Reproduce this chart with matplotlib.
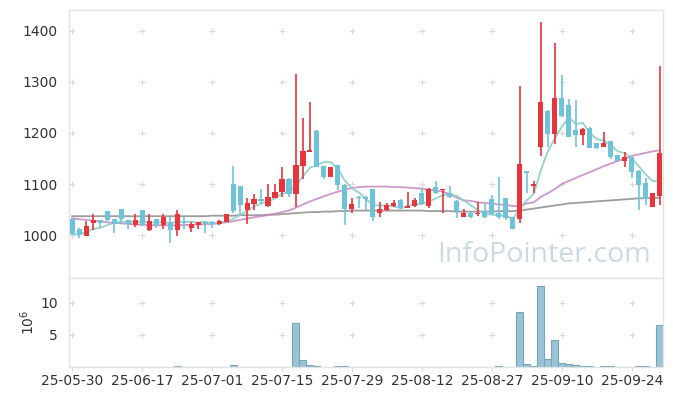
import numpy as np
import matplotlib
matplotlib.use("Agg")
import matplotlib.pyplot as plt
import pandas as pd

# daily OHLC (KRW), 85 trading days 25-05-30 .. 25-09-30
opens = [1031, 1012, 999, 1024, 1029, 1047, 1031, 1051, 1029, 1020,
         1049, 1010, 1031, 1020, 1026, 1010, 1026, 1014, 1020, 1025,
         1026, 1022, 1026, 1100, 1096, 1050, 1061, 1071, 1057, 1073,
         1084, 1110, 1081, 1135, 1163, 1204, 1135, 1114, 1137, 1099,
         1052, 1075, 1075, 1090, 1043, 1049, 1057, 1069, 1054, 1057,
         1083, 1057, 1094, 1088, 1083, 1067, 1036, 1044, 1041, 1046,
         1071, 1043, 1072, 1035, 1032, 1125, 1097, 1173, 1243, 1197,
         1269, 1255, 1206, 1196, 1210, 1180, 1173, 1184, 1156, 1146,
         1152, 1126, 1102, 1056, 1077]
highs = [1032, 1013, 1028, 1041, 1030, 1048, 1032, 1052, 1030, 1041,
         1050, 1042, 1032, 1041, 1035, 1049, 1036, 1026, 1026, 1026,
         1027, 1029, 1042, 1135, 1097, 1072, 1080, 1090, 1100, 1100,
         1133, 1111, 1315, 1229, 1260, 1205, 1136, 1134, 1138, 1100,
         1072, 1076, 1076, 1091, 1065, 1062, 1069, 1070, 1085, 1073,
         1093, 1093, 1106, 1091, 1097, 1068, 1052, 1046, 1065, 1060,
         1078, 1113, 1073, 1036, 1292, 1126, 1106, 1418, 1244, 1376,
         1314, 1266, 1265, 1209, 1211, 1181, 1201, 1185, 1157, 1162,
         1153, 1127, 1111, 1083, 1332]
lows = [1000, 995, 998, 1010, 1013, 1027, 1005, 1022, 1011, 1016,
        1018, 1009, 1014, 1012, 984, 999, 1011, 1006, 1011, 1005,
        1013, 1020, 1025, 1044, 1041, 1021, 1049, 1061, 1056, 1072,
        1075, 1075, 1056, 1109, 1162, 1133, 1110, 1113, 1088, 1020,
        1044, 1054, 1050, 1027, 1036, 1048, 1056, 1052, 1053, 1055,
        1059, 1054, 1081, 1043, 1073, 1034, 1035, 1034, 1038, 1034,
        1041, 1032, 1029, 1011, 1023, 1083, 1083, 1155, 1173, 1178,
        1232, 1192, 1173, 1176, 1170, 1168, 1172, 1149, 1145, 1134,
        1111, 1050, 1059, 1055, 1059]
closes = [1002, 1000, 1017, 1029, 1023, 1029, 1022, 1031, 1022, 1029,
          1020, 1027, 1020, 1036, 1010, 1041, 1023, 1022, 1025, 1021,
          1021, 1027, 1041, 1048, 1059, 1062, 1071, 1067, 1074, 1084,
          1110, 1081, 1137, 1165, 1167, 1134, 1113, 1133, 1099, 1052,
          1061, 1072, 1071, 1036, 1051, 1059, 1063, 1054, 1057, 1069,
          1061, 1090, 1082, 1090, 1074, 1047, 1044, 1036, 1044, 1035,
          1042, 1035, 1033, 1012, 1139, 1121, 1101, 1261, 1197, 1269,
          1233, 1193, 1196, 1208, 1171, 1171, 1180, 1152, 1146, 1153,
          1124, 1099, 1070, 1082, 1160]

# 20 / 60 day averages as drawn (they carry history from before the window)
ma20 = [1033, 1031, 1030, 1028, 1027, 1025, 1024, 1023, 1022, 1021,
        1020, 1020, 1019, 1019, 1019, 1019, 1020, 1020, 1021, 1021,
        1022, 1023, 1025, 1027, 1030, 1032, 1035, 1037, 1039, 1042,
        1045, 1048, 1054, 1060, 1066, 1071, 1076, 1081, 1085, 1089,
        1092, 1094, 1095, 1095, 1095, 1095, 1094, 1094, 1093, 1092,
        1091, 1089, 1087, 1085, 1080, 1073, 1068, 1067, 1064, 1063,
        1062, 1060, 1059, 1057, 1057, 1062, 1064, 1075, 1082, 1090,
        1100, 1106, 1112, 1118, 1123, 1129, 1135, 1140, 1145, 1150,
        1155, 1158, 1161, 1164, 1166]
ma60 = [1037, 1037, 1037, 1037, 1037, 1037, 1037, 1037, 1037, 1037,
        1037, 1037, 1037, 1037, 1037, 1037, 1037, 1037, 1037, 1037,
        1038, 1038, 1038, 1038, 1039, 1039, 1039, 1039, 1040, 1040,
        1041, 1042, 1043, 1044, 1045, 1045, 1046, 1046, 1047, 1047,
        1048, 1048, 1048, 1048, 1048, 1048, 1048, 1048, 1048, 1048,
        1048, 1047, 1047, 1047, 1047, 1046, 1046, 1046, 1046, 1046,
        1046, 1047, 1047, 1047, 1048, 1050, 1052, 1054, 1056, 1058,
        1060, 1062, 1063, 1064, 1065, 1066, 1067, 1068, 1069, 1070,
        1071, 1072, 1072, 1073, 1073]

# volume in millions
volume = [0.02, 0.02, 0.02, 0.02, 0.02, 0.02, 0.02, 0.02, 0.02, 0.02,
          0.02, 0.02, 0.02, 0.02, 0.02, 0.1, 0.02, 0.02, 0.02, 0.02,
          0.02, 0.02, 0.02, 0.3, 0.02, 0.02, 0.02, 0.02, 0.02, 0.02,
          0.02, 0.02, 6.8, 1.15, 0.35, 0.2, 0.05, 0.02, 0.15, 0.15,
          0.02, 0.02, 0.02, 0.02, 0.02, 0.02, 0.02, 0.02, 0.02, 0.02,
          0.02, 0.02, 0.02, 0.02, 0.02, 0.02, 0.02, 0.02, 0.02, 0.02,
          0.02, 0.1, 0.02, 0.02, 8.6, 0.47, 0.15, 12.7, 1.25, 4.2,
          0.6, 0.5, 0.35, 0.15, 0.15, 0.02, 0.12, 0.12, 0.02, 0.02,
          0.02, 0.12, 0.12, 0.02, 6.6]

tick_labels = ["25-05-30", "25-06-17", "25-07-01", "25-07-15", "25-07-29",
               "25-08-12", "25-08-27", "25-09-10", "25-09-24"]
tick_pos = list(range(0, 90, 10))[:len(tick_labels)]

up_color = "#e8343b"
down_color = "#6ec3d9"
grid_color = "#d9d9d9"
spine_color = "#e3e3e3"

df = pd.DataFrame({"open": opens, "high": highs, "low": lows, "close": closes})
x = np.arange(len(df))
ma5 = df["close"].rolling(5, min_periods=1).mean()

fig = plt.figure(figsize=(6.73, 3.96), dpi=100)
ax = fig.add_axes([0.1025, 0.298, 0.8825, 0.677])
ax2 = fig.add_axes([0.1025, 0.0732, 0.8825, 0.2248], sharex=ax)

# grid drawn as little crosses
gx, gy = np.meshgrid(tick_pos, [1000, 1100, 1200, 1300, 1400])
ax.scatter(gx.ravel(), gy.ravel(), marker="+", s=22, c=grid_color, lw=0.8, zorder=0)
gx, gy = np.meshgrid(tick_pos, [5, 10])
ax2.scatter(gx.ravel(), gy.ravel(), marker="+", s=22, c=grid_color, lw=0.8, zorder=0)

# moving averages
ax.plot(x, ma60, color="#8c8c8c", lw=1.3, alpha=0.85, zorder=2)
ax.plot(x, ma20, color="#c586c0", lw=1.3, alpha=0.85, zorder=2)
ax.plot(x, ma5, color="#8fd0c6", lw=1.3, alpha=0.95, zorder=2)

# candles
up = df["close"] >= df["open"]
colors = np.where(up, up_color, down_color)
body_low = np.minimum(df["open"], df["close"])
body_h = np.maximum(np.abs(df["close"] - df["open"]), 1.5)
ax.vlines(x, df["low"], df["high"], colors=colors, lw=1.2, zorder=3)
ax.bar(x, body_h, bottom=body_low, width=0.72, color=colors, zorder=4)

ax.set_xlim(-0.45, 84.45)
ax.set_ylim(916, 1441)
ax.set_yticks([1000, 1100, 1200, 1300, 1400])
ax.tick_params(axis="y", length=0, labelsize=10, colors="#333333", pad=8)
ax.tick_params(axis="x", length=0, labelbottom=False)

# watermark
ax.text(0.80, 0.085, "InfoPointer.com", transform=ax.transAxes, ha="center",
        va="center", fontsize=20.5, color="#c9dae4", family="Open Sans", zorder=1)

# volume
ax2.bar(x, volume, width=1.0, color="#9cc3d3", edgecolor="#73a6bb", lw=0.8, zorder=2)
ax2.set_ylim(0, 13.9)
ax2.set_yticks([5, 10])
ax2.set_xticks(tick_pos)
ax2.set_xticklabels(tick_labels)
ax2.tick_params(axis="y", length=0, labelsize=10, colors="#333333", pad=8)
ax2.tick_params(axis="x", length=3, color=grid_color, labelsize=10, colors="#333333", pad=2)
ax2.set_ylabel(r"$10^6$", fontsize=10, color="#333333", labelpad=2)

for a in (ax, ax2):
    for s in a.spines.values():
        s.set_color(spine_color)
        s.set_linewidth(1.0)

plt.savefig("out.png", dpi=100)
